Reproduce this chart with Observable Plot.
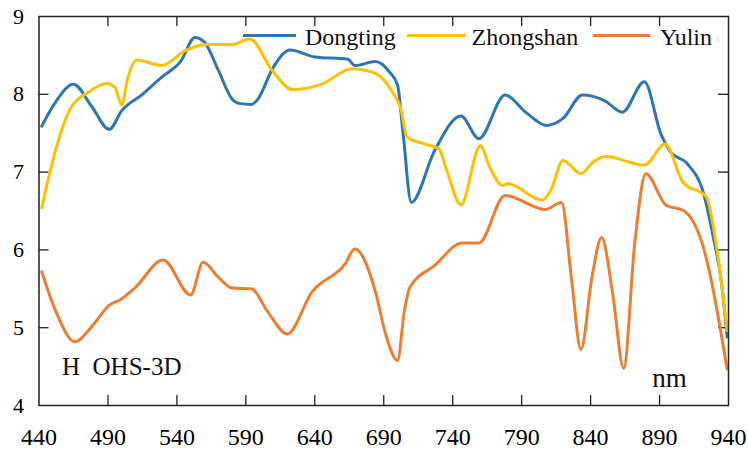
<!DOCTYPE html>
<html><head><meta charset="utf-8">
<script src="https://cdn.jsdelivr.net/npm/d3@7"></script>
<script src="https://cdn.jsdelivr.net/npm/@observablehq/plot@0.6"></script>
<style>body{margin:0;background:#fff}#chart{width:748px;height:450px}</style>
</head><body><div id="chart"></div>
<script>
const seriesNames = ["Dongting", "Zhongshan", "Yulin"];
const seriesColors = ["#2E75B6", "#FFC000", "#ED7D31"];

const dongtingWl  = [442, 452, 465, 478, 491, 500, 515, 529, 543, 553, 560, 570, 580, 586, 594, 598, 610, 622, 640, 664, 669, 684, 694, 700, 704, 710, 727, 746, 759, 778, 793, 808, 820, 834, 850, 863, 879, 891, 898, 910, 922, 929, 935, 939];
const dongtingVal = [7.59, 7.90, 8.13, 7.85, 7.55, 7.79, 8.00, 8.22, 8.43, 8.73, 8.67, 8.31, 7.94, 7.88, 7.87, 7.92, 8.35, 8.57, 8.48, 8.45, 8.37, 8.42, 8.29, 8.12, 7.50, 6.61, 7.28, 7.72, 7.43, 7.99, 7.77, 7.60, 7.69, 7.99, 7.92, 7.77, 8.16, 7.49, 7.26, 7.11, 6.72, 6.16, 5.57, 4.88];

const zhongshanWl  = [442, 452, 462, 476, 489, 495, 500, 504, 511, 529, 546, 561, 580, 593, 609, 624, 645, 667, 684, 697, 702, 707, 720, 730, 735, 746, 760, 767, 776, 780, 805, 811, 820, 833, 842, 851, 879, 894, 907, 924, 931, 939];
const zhongshanVal = [6.54, 7.28, 7.79, 8.03, 8.14, 8.09, 7.86, 8.18, 8.44, 8.37, 8.56, 8.64, 8.64, 8.71, 8.31, 8.06, 8.13, 8.33, 8.27, 8.01, 7.84, 7.45, 7.36, 7.30, 7.06, 6.58, 7.34, 7.06, 6.83, 6.85, 6.64, 6.76, 7.15, 6.98, 7.13, 7.20, 7.09, 7.36, 6.87, 6.68, 6.08, 4.96];

const yulinWl  = [442, 452, 466, 479, 491, 500, 510, 530, 550, 559, 570, 580, 594, 606, 620, 638, 662, 669, 684, 691, 700, 705, 709, 727, 747, 759, 778, 807, 819, 826, 833, 841, 848, 856, 864, 872, 880, 895, 907, 921, 939];
const yulinVal = [5.72, 5.22, 4.82, 5.03, 5.29, 5.37, 5.52, 5.87, 5.42, 5.84, 5.65, 5.51, 5.50, 5.20, 4.92, 5.46, 5.82, 6.01, 5.46, 4.94, 4.58, 5.22, 5.52, 5.80, 6.09, 6.09, 6.70, 6.52, 6.61, 5.65, 4.72, 5.65, 6.16, 5.44, 4.48, 6.08, 6.98, 6.57, 6.51, 6.08, 4.47];

const xTicks = [440, 490, 540, 590, 640, 690, 740, 790, 840, 890, 940];
const yTicks = [4, 5, 6, 7, 8, 9];
const annotation = "H\u00a0\u00a0OHS-3D";
const unitLabel = "nm";

const rows = [];
[[dongtingWl, dongtingVal], [zhongshanWl, zhongshanVal], [yulinWl, yulinVal]].forEach(([wl, val], i) => {
  wl.forEach((w, j) => rows.push({series: seriesNames[i], wl: w, val: val[j]}));
});

const W = 748, H = 450, mL = 38.5, mR = 20, mT = 16, mB = 45;
const innerW = W - mL - mR, innerH = H - mT - mB;
const ink = "#222";
const tickLen = 10;
const font = "'Liberation Serif', 'Times New Roman', serif";

const chart = Plot.plot({
  width: W, height: H,
  marginLeft: mL, marginRight: mR, marginTop: mT, marginBottom: mB,
  style: {fontFamily: font, fontSize: "22px", color: "#000", background: "#fff"},
  x: {domain: [440, 940]},
  y: {domain: [4, 9]},
  color: {domain: seriesNames, range: seriesColors},
  marks: [
    Plot.axisX(xTicks, {tickSize: 0, tickPadding: 22, fontSize: 24, label: null, tickFormat: d => String(d)}),
    Plot.axisY(yTicks, {tickSize: 0, tickPadding: 15, fontSize: 22, label: null, tickFormat: d => String(d)}),
    Plot.tickX(xTicks.slice(1, -1), {x: d => d, insetTop: innerH - tickLen, stroke: ink, strokeWidth: 1.3}),
    Plot.tickX(xTicks.slice(1, -1), {x: d => d, insetBottom: innerH - tickLen, stroke: ink, strokeWidth: 1.3}),
    Plot.tickY(yTicks.slice(1, -1), {y: d => d, insetRight: innerW - tickLen, stroke: ink, strokeWidth: 1.3}),
    Plot.tickY(yTicks.slice(1, -1), {y: d => d, insetLeft: innerW - tickLen, stroke: ink, strokeWidth: 1.3}),
    Plot.line(rows, {x: "wl", y: "val", z: "series", stroke: "series", strokeWidth: 3, curve: "monotone-x"}),
    Plot.frame({stroke: ink, strokeWidth: 1.5}),
    Plot.text([annotation], {frameAnchor: "bottom-left", text: d => d, dx: 23, dy: -39, textAnchor: "start", lineAnchor: "middle", fontSize: 25, fill: "#111"}),
    Plot.text([unitLabel], {frameAnchor: "bottom-right", text: d => d, dx: -59, dy: -27, textAnchor: "middle", lineAnchor: "middle", fontSize: 27, fill: "#111"})
  ]
});
document.getElementById("chart").appendChild(chart);

// legend inside the plot area
const svg = d3.select(chart);
const legendItems = [
  {name: seriesNames[0], color: seriesColors[0], x1: 243, x2: 296, tx: 305},
  {name: seriesNames[1], color: seriesColors[1], x1: 407, x2: 466, tx: 471.5},
  {name: seriesNames[2], color: seriesColors[2], x1: 593, x2: 650, tx: 660}
];
const lg = svg.append("g").attr("text-anchor", "start");
legendItems.forEach(it => {
  lg.append("line").attr("x1", it.x1).attr("x2", it.x2).attr("y1", 35.5).attr("y2", 35.5)
    .attr("stroke", it.color).attr("stroke-width", 3);
  lg.append("text").attr("x", it.tx).attr("y", 44.5).attr("font-size", 24)
    .attr("text-anchor", "start")
    .attr("font-family", font).attr("fill", "#111").text(it.name);
});
</script>
</body></html>
